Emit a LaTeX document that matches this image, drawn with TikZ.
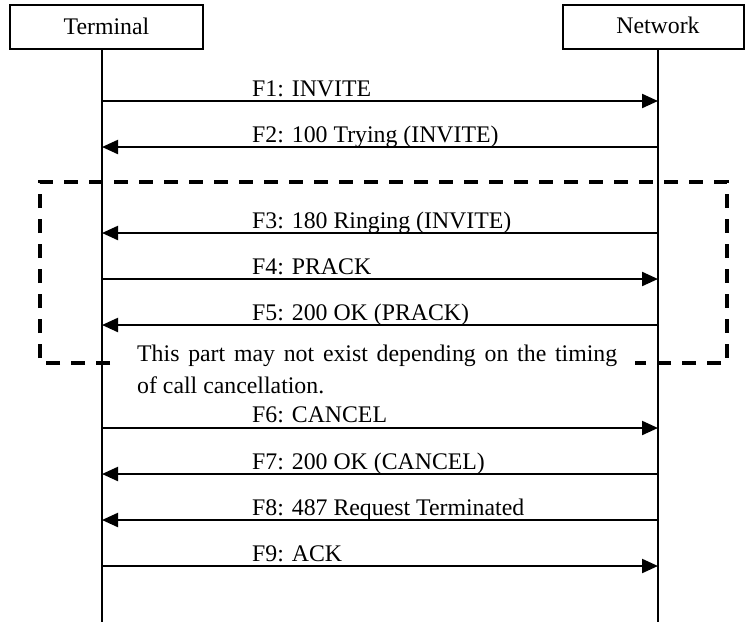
\documentclass[tikz,border=0pt]{standalone}
\usepackage{fontspec}
\setmainfont{Liberation Serif}
\usetikzlibrary{arrows.meta}
\begin{document}
\begin{tikzpicture}[x=1pt,y=-1pt,
  every node/.style={font=\fontsize{23.8}{32}\selectfont},
  actor/.style={draw,line width=1.8pt,minimum height=44pt,inner sep=0pt},
  life/.style={line width=1.8pt},
  msg/.style={line width=2.2pt,-{Triangle[length=16pt,width=14pt]}},
  lbl/.style={anchor=base west,inner sep=0pt},
  zone/.style={line width=3.5pt,dash pattern=on 14pt off 11pt}]
\useasboundingbox[fill=white] (0,0) rectangle (745,622);
\node[actor,minimum width=193pt] (T) at (106.5,27) {};
\node[anchor=base] (Tt) at (106.5,34) {Terminal};
\node[actor,minimum width=181pt] (N) at (653.5,27) {};
\node[anchor=base] (Nt) at (658,33) {Network};
\coordinate (tl) at (102,49);
\coordinate (tb) at (102,622);
\coordinate (nl) at (658,49);
\coordinate (nb) at (658,622);
\draw[life] (tl) -- (tb);
\draw[life] (nl) -- (nb);
% dashed zone
\coordinate (z1) at (110,363);
\coordinate (z2) at (40,363);
\coordinate (z3) at (40,182);
\coordinate (z4) at (727,182);
\coordinate (z5) at (727,363);
\coordinate (z6) at (635,363);
\draw[zone] (z1) -- (z2) -- (z3) -- (z4) -- (z5) -- (z6);
% messages
\draw[msg] (tl |- 0,101) -- (nl |- 0,101);
\node[lbl] (l1) at (252,96) {F1: INVITE};
\draw[msg] (nl |- 0,147) -- (tl |- 0,147);
\node[lbl] (l2) at (252,142) {F2: 100 Trying (INVITE)};
\draw[msg] (nl |- 0,233) -- (tl |- 0,233);
\node[lbl] (l3) at (252,228) {F3: 180 Ringing (INVITE)};
\draw[msg] (tl |- 0,279) -- (nl |- 0,279);
\node[lbl] (l4) at (252,274) {F4: PRACK};
\draw[msg] (nl |- 0,325) -- (tl |- 0,325);
\node[lbl] (l5) at (252,320) {F5: 200 OK (PRACK)};
\node[lbl] (n1) at (137,361) {\makebox[480pt][s]{This part may not exist depending on the timing}};
\node[lbl] (n2) at (137,393) {of call cancellation.};
\draw[msg] (tl |- 0,428) -- (nl |- 0,428);
\node[lbl] (l6) at (252,422) {F6: CANCEL};
\draw[msg] (nl |- 0,474) -- (tl |- 0,474);
\node[lbl] (l7) at (252,469) {F7: 200 OK (CANCEL)};
\draw[msg] (nl |- 0,520) -- (tl |- 0,520);
\node[lbl] (l8) at (252,515) {F8: 487 Request Terminated};
\draw[msg] (tl |- 0,566) -- (nl |- 0,566);
\node[lbl] (l9) at (252,561) {F9: ACK};
\end{tikzpicture}
\end{document}
